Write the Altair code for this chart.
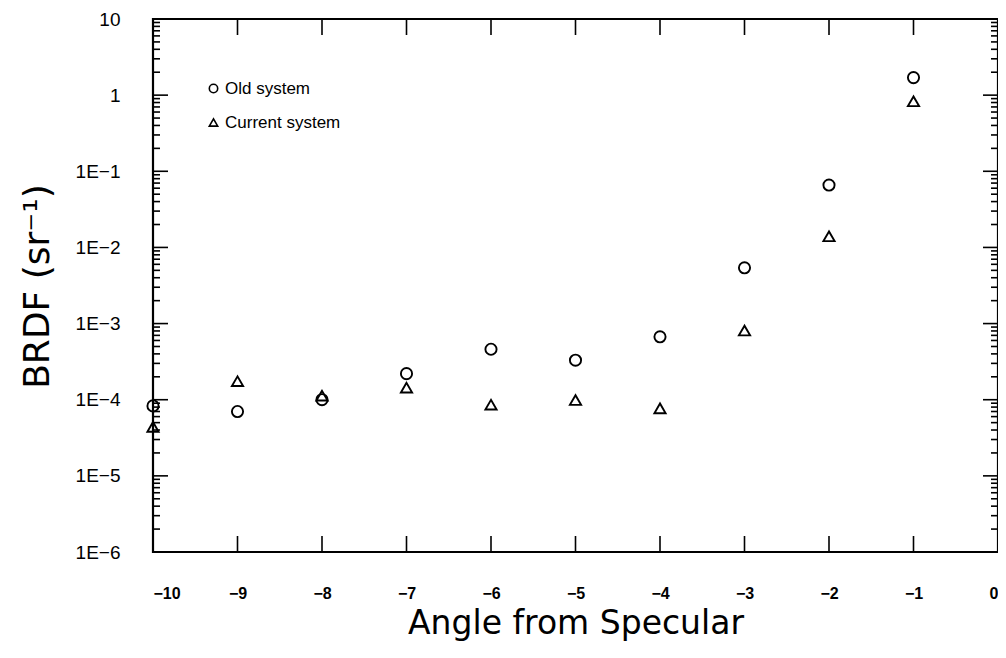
import altair as alt
import pandas as pd

# ---- data ----
angles = [-10, -9, -8, -7, -6, -5, -4, -3, -2, -1]
old_system = [8.3e-5, 7.0e-5, 1.0e-4, 2.2e-4, 4.6e-4, 3.3e-4, 6.7e-4, 5.4e-3, 6.6e-2, 1.7]
current_system = [4.4e-5, 1.75e-4, 1.13e-4, 1.44e-4, 8.6e-5, 9.9e-5, 7.7e-5, 8.1e-4, 1.4e-2, 0.83]
series_names = ["Old system", "Current system"]

x_ticks = [-10, -9, -8, -7, -6, -5, -4, -3, -2, -1, 0]
y_major = [1e-6, 1e-5, 1e-4, 1e-3, 1e-2, 1e-1, 1, 10]
y_labels = ["1E−6", "1E−5", "1E−4", "1E−3", "1E−2", "1E−1", "1", "10"]
minor_mult = [2, 3, 4, 5, 6, 7, 8, 9]
y_minor = [m * d for d in y_major[:-1] for m in minor_mult]

W, H = 845, 533

df = pd.DataFrame(
    {
        "angle": angles * 2,
        "brdf": old_system + current_system,
        "series": [series_names[0]] * len(angles) + [series_names[1]] * len(angles),
    }
)
df_major = pd.DataFrame({"v": y_major})
df_minor = pd.DataFrame({"v": y_minor})
df_x = pd.DataFrame({"a": x_ticks})

# label expression built from the label list
expr = "''"
for v, lab in zip(y_major, y_labels):
    expr = f"(abs(datum.value - {v}) < {v}*0.01) ? '{lab}' : ({expr})"

xs = alt.Scale(domain=[-10, 0], nice=False, zero=False)
ys = alt.Scale(type="log", domain=[1e-6, 10], nice=False)

x_axis = alt.Axis(
    values=x_ticks, format="d", tickSize=0, domain=False, grid=False,
    labelPadding=33, labelFontSize=16, labelFontWeight="bold",
    labelFont="Liberation Sans", labelColor="black",
    title="Angle from Specular", titleFontSize=33, titleFont="DejaVu Sans",
    titleFontWeight="normal", titleColor="black", titleY=81,
    titleBaseline="alphabetic",
)
y_axis = alt.Axis(
    values=y_major, labelExpr=expr, tickSize=0, domain=False, grid=False,
    labelPadding=33, labelFontSize=19, labelFont="Liberation Sans",
    labelColor="black",
    title="BRDF (sr⁻¹)", titleFontSize=36, titleFont="DejaVu Sans",
    titleFontWeight="normal", titleColor="black", titleX=-105,
    titleY=267, titleBaseline="alphabetic", titleAngle=-90,
)

points = alt.Chart(df).mark_point(
    filled=False, color="black", strokeWidth=1.9, size=125, opacity=1
).encode(
    x=alt.X("angle:Q", scale=xs, axis=x_axis),
    y=alt.Y("brdf:Q", scale=ys, axis=y_axis),
    shape=alt.Shape(
        "series:N",
        scale=alt.Scale(domain=series_names, range=["circle", "triangle-up"]),
        legend=alt.Legend(
            orient="none", legendX=52, legendY=61, title=None,
            symbolSize=70, symbolStrokeWidth=1.6, symbolStrokeColor="black",
            symbolFillColor="transparent", labelFontSize=17,
            labelFont="Liberation Sans", labelColor="black", rowPadding=16,
            labelOffset=3, padding=0,
        ),
    ),
)

rule_kw = dict(color="black", strokeWidth=1.6)
ymaj_l = alt.Chart(df_major).mark_rule(**rule_kw).encode(
    y=alt.Y("v:Q", scale=ys), x=alt.value(0), x2=alt.value(15))
ymaj_r = alt.Chart(df_major).mark_rule(**rule_kw).encode(
    y=alt.Y("v:Q", scale=ys), x=alt.value(W - 15), x2=alt.value(W))
ymin_l = alt.Chart(df_minor).mark_rule(**rule_kw).encode(
    y=alt.Y("v:Q", scale=ys), x=alt.value(0), x2=alt.value(7))
ymin_r = alt.Chart(df_minor).mark_rule(**rule_kw).encode(
    y=alt.Y("v:Q", scale=ys), x=alt.value(W - 7), x2=alt.value(W))
xt_b = alt.Chart(df_x).mark_rule(**rule_kw).encode(
    x=alt.X("a:Q", scale=xs), y=alt.value(H), y2=alt.value(H - 16))
xt_t = alt.Chart(df_x).mark_rule(**rule_kw).encode(
    x=alt.X("a:Q", scale=xs), y=alt.value(0), y2=alt.value(16))

chart = alt.layer(
    ymaj_l, ymaj_r, ymin_l, ymin_r, xt_b, xt_t, points
).properties(
    width=W, height=H,
    background="white",
    autosize=alt.AutoSizeParams(type="none"),
    padding={"left": 145, "top": 11, "right": 0, "bottom": 106},
).configure_view(
    stroke="black", strokeWidth=2.2
)

chart.save("out.html", embed_options={"renderer": "svg", "actions": False})
